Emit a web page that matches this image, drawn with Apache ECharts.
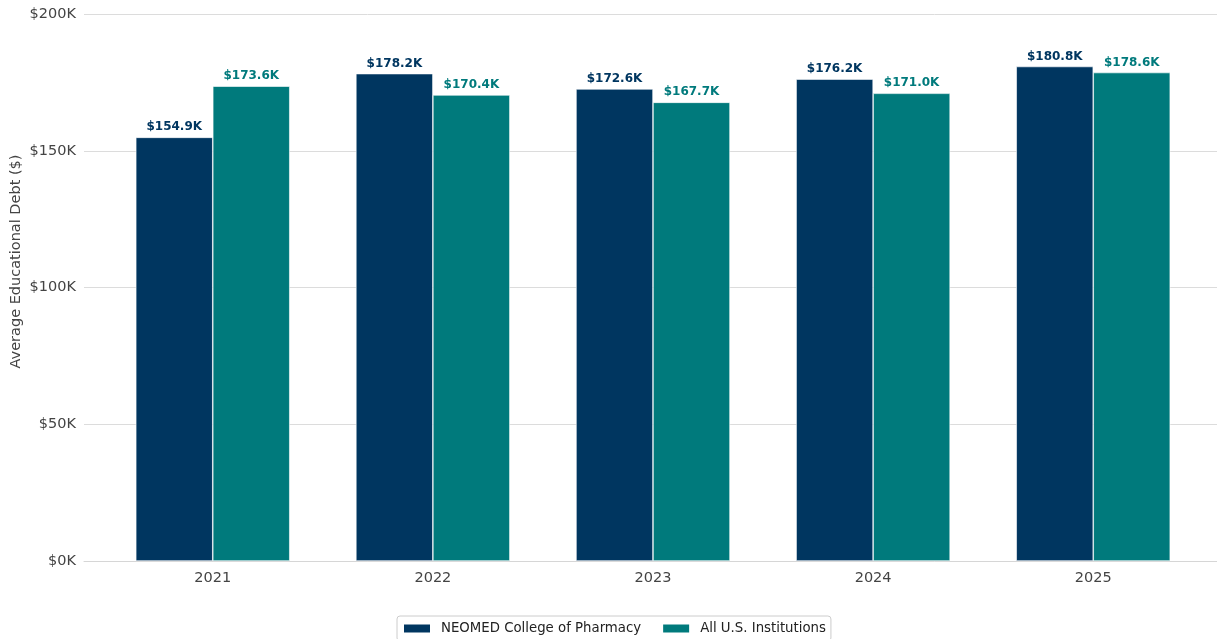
<!DOCTYPE html>
<html>
<head>
<meta charset="utf-8">
<script src="https://cdn.jsdelivr.net/npm/echarts@6/dist/echarts.min.js"></script>
<style>html,body{margin:0;padding:0;background:#fff}#c{width:1217px;height:639px}</style>
</head>
<body>
<div id="c"></div>
<script>
const years = ['2021', '2022', '2023', '2024', '2025'];
const neomed = [154900, 178200, 172600, 176200, 180800];
const allUS = [173600, 170400, 167700, 171000, 178600];
const yTicks = [0, 50000, 100000, 150000, 200000];
const seriesNames = ['NEOMED College of Pharmacy', 'All U.S. Institutions'];
const colors = ['#003660', '#007A7C'];

const font = 'DejaVu Sans';
const chart = echarts.init(document.getElementById('c'));
function fmtK(v) { return '$' + (v / 1000).toFixed(1) + 'K'; }
function mk(name, vals, color) {
  return {
    name: name, type: 'bar', barWidth: 77, barGap: '0%',
    data: vals.map((v, i) => [i, v]),
    itemStyle: { color: color, borderColor: '#ffffff', borderWidth: 0.6 },
    label: { show: true, position: 'top', distance: 4, color: color, fontFamily: font,
      fontWeight: 'bold', fontSize: 12, formatter: p => fmtK(p.value[1]) }
  };
}
chart.setOption({
  animation: false,
  textStyle: { fontFamily: font },
  grid: { left: 84, width: 1138, top: 14, bottom: 78, containLabel: false, outerBoundsMode: 'none' },
  legend: {
    top: 616, left: 397, icon: 'rect', itemWidth: 28, itemHeight: 10, itemGap: 20,
    borderColor: '#cccccc', borderWidth: 1, borderRadius: 3, padding: [6, 5, 6, 5],
    textStyle: { fontFamily: font, fontSize: 13.3, color: '#222', padding: [0, 0, 0, 5] },
    data: seriesNames
  },
  xAxis: {
    type: 'value', min: -0.585, max: 4.585,
    axisLine: { show: true, lineStyle: { color: '#d6d6d6', width: 1 } },
    axisTick: { show: false },
    splitLine: { show: false },
    axisLabel: { customValues: [0, 1, 2, 3, 4], formatter: v => years[Math.round(v)] || '',
      fontFamily: font, fontSize: 14.5, color: '#444', margin: 10 }
  },
  yAxis: {
    type: 'value', min: 0, max: 200000, interval: 50000,
    name: 'Average Educational Debt ($)', nameLocation: 'middle', nameGap: 60, nameMoveOverlap: false,
    nameTextStyle: { fontFamily: font, fontSize: 14.5, color: '#444', padding: [0, 0, 0, 52] },
    axisLine: { show: false }, axisTick: { show: false },
    splitLine: { lineStyle: { color: '#dcdcdc', width: 1 } },
    axisLabel: { formatter: v => '$' + (v / 1000) + 'K', fontFamily: font, fontSize: 14.5, color: '#444', margin: 8 }
  },
  series: [mk(seriesNames[0], neomed, colors[0]), mk(seriesNames[1], allUS, colors[1])]
});
</script>
</body>
</html>
